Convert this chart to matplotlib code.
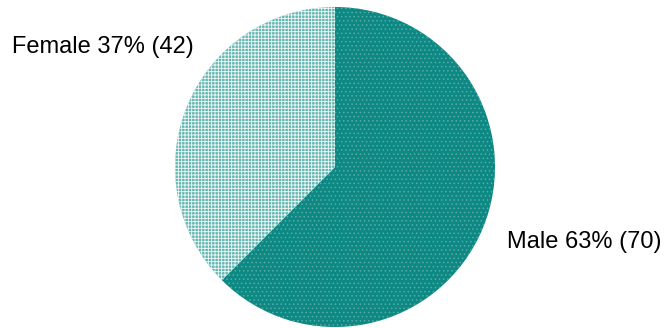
import matplotlib
matplotlib.use("Agg")
import matplotlib.pyplot as plt

# data
labels = ["Male", "Female"]
counts = [70, 42]
percents = [63, 37]

colors = ["#0d8883", "#66b6b1"]
hatches = ["....", "+++++"]
edge_colors = ["#55aca7", "#f2fafa"]

plt.rcParams["hatch.linewidth"] = 0.6

W, H = 669, 328
fig = plt.figure(figsize=(W / 100, H / 100), dpi=100)
ax = fig.add_axes([0, 0, 1, 1])

wedges, _ = ax.pie(counts, colors=colors, startangle=90, counterclock=False,
                   center=(335, H - 167), radius=160, frame=True,
                   wedgeprops=dict(linewidth=0))
for w, h, ec in zip(wedges, hatches, edge_colors):
    w.set_hatch(h)
    w.set_edgecolor(ec)
    w.set_linewidth(0)
ax.set_xlim(0, W)
ax.set_ylim(0, H)
ax.set_aspect("equal")
ax.axis("off")

text_pos = [(507, H - 242), (12, H - 47)]
for lab, pct, n, (tx, ty) in zip(labels, percents, counts, text_pos):
    ax.text(tx, ty, f"{lab} {pct}% ({n})", ha="left", va="center",
            fontsize=17, family="Liberation Sans", color="#000000")

fig.savefig("out.png", dpi=100, facecolor="white")
